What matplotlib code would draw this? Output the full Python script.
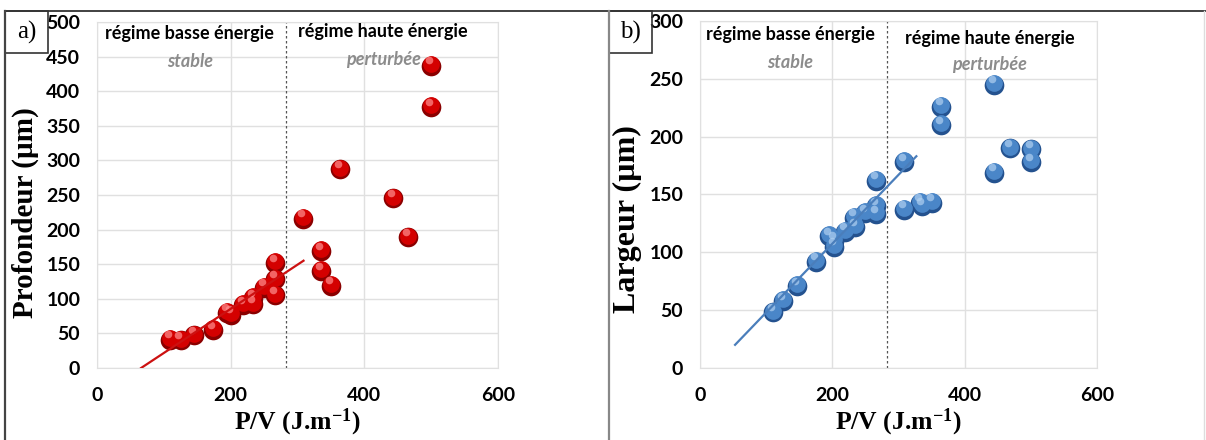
import matplotlib
matplotlib.use("Agg")
import matplotlib.pyplot as plt
import matplotlib.transforms as mtransforms
from matplotlib.lines import Line2D
from matplotlib.patches import Rectangle
import numpy as np

# a) depth vs P/V
depth_x = [109, 125, 145, 174, 194, 200, 218, 233, 233, 250, 267, 267, 267,
           308, 335, 335, 350, 364, 443, 466, 500, 500]
depth_y = [41, 40, 47, 55, 80, 77, 91, 101, 92, 116, 152, 128, 105,
           216, 169, 140, 119, 287, 245, 189, 437, 377]
depth_trend = (0.638, -42.1)      # slope, intercept
depth_trend_x = [66, 309]

# b) width vs P/V
width_x = [110, 125, 146, 175, 195, 202, 202, 219, 233, 234, 250, 266, 266, 266,
           308, 308, 332, 336, 351, 364, 364, 445, 445, 468, 501, 501]
width_y = [48, 58, 71, 92, 114, 105, 110, 118, 130, 122, 134, 162, 140, 133,
           178, 137, 143, 140, 143, 226, 210, 245, 169, 190, 189, 178]
width_trend = (0.595, -11.5)
width_trend_x = [53, 327]

threshold = 283
xticks = [0, 200, 400, 600]

plt.rcParams['mathtext.fontset'] = 'custom'
plt.rcParams['mathtext.rm'] = 'Liberation Serif:bold'
plt.rcParams['mathtext.it'] = 'Liberation Serif:bold'

fig = plt.figure(figsize=(12.06, 4.4), dpi=100)


def sphere(ax, x, y, dark, main, light):
    up = mtransforms.offset_copy(ax.transData, fig=fig, x=0, y=1.2, units='points')
    hi = mtransforms.offset_copy(ax.transData, fig=fig, x=-1.5, y=3.8, units='points')
    ax.scatter(x, y, s=200, color=dark, linewidths=0, zorder=3)
    ax.scatter(x, y, s=145, color=main, linewidths=0, zorder=4, transform=up)
    ax.scatter(x, y, s=30, color=light, linewidths=0, alpha=0.7, zorder=5, transform=hi)


def panel(rect, xs, ys, trend, trend_x, ymax, ystep, ylabel, ylab_size, ylab_y,
          colors, line_color, txt_basse, txt_haute):
    ax = fig.add_axes(rect)
    ax.set_xlim(0, 600)
    ax.set_ylim(0, ymax)
    ax.set_xticks(xticks)
    ax.set_yticks(np.arange(0, ymax + 1, ystep))
    ax.grid(True, color='#e0e0e0', lw=1)
    ax.set_axisbelow(True)
    for sp in ax.spines.values():
        sp.set_color('#e0e0e0')
    ax.tick_params(length=0, labelsize=14)
    ax.tick_params(axis='y', pad=12)
    ax.tick_params(axis='x', pad=14)
    for lab in ax.get_xticklabels() + ax.get_yticklabels():
        lab.set_fontfamily('Lato')
        lab.set_fontweight('bold')

    sphere(ax, xs, ys, *colors)
    tx = np.array(trend_x)
    ax.plot(tx, trend[0] * tx + trend[1], color=line_color, lw=1.6, zorder=6)
    ax.axvline(threshold, color='#555555', lw=0.9, ls=(0, (2, 2)), zorder=2)

    ax.text(*txt_basse[0], "régime basse énergie", ha='center', va='center',
            family='Lato', weight='bold', fontsize=13)
    ax.text(*txt_basse[1], "stable", ha='center', va='center', family='Lato',
            weight='bold', style='italic', fontsize=13, color='#8c8c8c')
    ax.text(*txt_haute[0], "régime haute énergie", ha='center', va='center',
            family='Lato', weight='bold', fontsize=13)
    ax.text(*txt_haute[1], "perturbée", ha='center', va='center', family='Lato',
            weight='bold', style='italic', fontsize=13, color='#8c8c8c')

    ax.set_ylabel(ylabel, family='Liberation Serif', weight='bold', fontsize=ylab_size)
    ax.set_xlabel(r"P/V (J.m$^{\mathrm{-1}}$)", family='Liberation Serif',
                  weight='bold', fontsize=18.5)
    ax.yaxis.set_label_coords(-0.145, ylab_y)
    ax.xaxis.set_label_coords(0.5, -0.112)
    return ax


panel([97 / 1206, 1 - 368 / 440, 401 / 1206, 346 / 440], depth_x, depth_y,
      depth_trend, depth_trend_x, 500, 50, "Profondeur (µm)", 21, 0.45,
      ('#8a0000', '#d40000', '#ff9090'), '#cc1111',
      [(139, 483), (139, 443)], [(428, 486), (428, 446)])

panel([700 / 1206, 1 - 368 / 440, 397 / 1206, 347 / 440], width_x, width_y,
      width_trend, width_trend_x, 300, 50, "Largeur (µm)", 23, 0.43,
      ('#24528f', '#4a86c8', '#b0d0f0'), '#4a7ebb',
      [(136, 288), (136, 264)], [(438, 285), (438, 262)])


# panel frames
def fx(px):
    return px / 1206


def fy(py):
    return 1 - py / 440


fig.add_artist(Line2D([fx(5), fx(1206)], [fy(11), fy(11)], color='#333333', lw=1.3))
fig.add_artist(Line2D([fx(5), fx(5)], [fy(11), 0], color='#444444', lw=1.6))
fig.add_artist(Line2D([fx(609), fx(609)], [fy(11), 0], color='#888888', lw=1.6))
fig.add_artist(Line2D([fx(1204), fx(1204)], [fy(11), 0], color='#dddddd', lw=1))

for x0, lab in [(5, "a)"), (609, "b)")]:
    fig.add_artist(Rectangle((fx(x0), fy(53)), 43 / 1206, 42 / 440,
                             transform=fig.transFigure, fill=False,
                             edgecolor='#333333', lw=1.2))
    fig.text(fx(x0 + 21.5), fy(32), lab, ha='center', va='center',
             family='Liberation Serif', fontsize=18)

fig.savefig("out.png", dpi=100)
